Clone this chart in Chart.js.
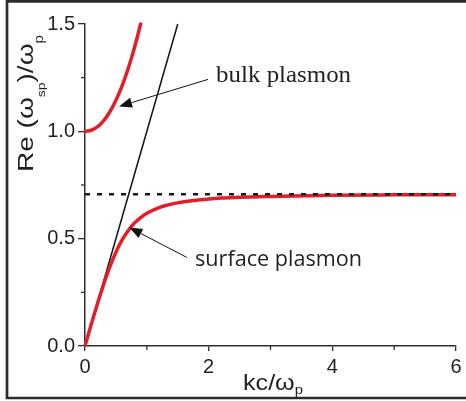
<!DOCTYPE html>
<html>
<head>
<meta charset="utf-8">
<script src="https://cdn.jsdelivr.net/npm/chart.js@4.4.1/dist/chart.umd.min.js"></script>
<style>
html, body { margin: 0; padding: 0; background: #fff; }
</style>
</head>
<body>
<canvas id="plasmonChart" width="466" height="401"></canvas>
<script>
// values: kc/wp along x, Re(w)/wp along y
const surfaceK = [0, 0.1, 0.2, 0.3, 0.4, 0.5, 0.6, 0.7, 0.8, 0.9, 1.0, 1.2, 1.4, 1.6, 1.8, 2.0, 2.5, 3.0, 4.0, 5.0, 6.0];
const surfaceW = [0, 0.100, 0.196, 0.286, 0.367, 0.437, 0.494, 0.538, 0.573, 0.598, 0.618, 0.645, 0.661, 0.672, 0.679, 0.685, 0.693, 0.697, 0.702, 0.704, 0.705];
const bulkK = [0, 0.1, 0.2, 0.3, 0.4, 0.5, 0.6, 0.7, 0.8, 0.9];
const bulkW = [1.0, 1.005, 1.021, 1.049, 1.09, 1.145, 1.212, 1.294, 1.39, 1.5];
const lightK = [0, 1.5];
const lightW = [0, 1.5];
const limitK = [0, 6];
const limitW = [0.707, 0.707];

const xTicks = [0, 2, 4, 6];
const xMinorTicks = [1, 3, 5];
const yTicks = [0, 0.5, 1.0, 1.5];
const yMinorTicks = [0.25, 0.75, 1.25];

const SANS = '"Liberation Sans", Arial, sans-serif';
const AXIS_COLOR = '#2e2e2e';
const RED = 'rgb(226, 30, 40)';

function toPoints(xs, ys) {
    return xs.map((x, i) => ({ x: x, y: ys[i] }));
}

// draws text pieces [text, size, dy] one after another, squeezed/stretched to a length
function drawRich(ctx, parts, x, y, targetLen) {
    let total = 0;
    parts.forEach(p => {
        ctx.font = p[1] + 'px ' + SANS;
        total += ctx.measureText(p[0]).width;
    });
    const sx = targetLen ? targetLen / total : 1;
    ctx.save();
    ctx.translate(x, y);
    ctx.scale(sx, 1);
    let cx = 0;
    parts.forEach(p => {
        ctx.font = p[1] + 'px ' + SANS;
        ctx.fillText(p[0], cx, p[2]);
        cx += ctx.measureText(p[0]).width;
    });
    ctx.restore();
}

function drawFitted(ctx, text, font, x, y, targetLen) {
    ctx.font = font;
    const w = ctx.measureText(text).width;
    ctx.save();
    ctx.translate(x, y);
    ctx.scale(targetLen / w, 1);
    ctx.fillText(text, 0, 0);
    ctx.restore();
}

function drawArrow(ctx, x1, y1, x2, y2) {
    const a = Math.atan2(y2 - y1, x2 - x1);
    const len = 13, half = 5;
    const bx = x2 - len * Math.cos(a), by = y2 - len * Math.sin(a);
    ctx.beginPath();
    ctx.moveTo(x1, y1);
    ctx.lineTo(bx, by);
    ctx.stroke();
    ctx.beginPath();
    ctx.moveTo(x2, y2);
    ctx.lineTo(bx + half * Math.sin(a), by - half * Math.cos(a));
    ctx.lineTo(bx - half * Math.sin(a), by + half * Math.cos(a));
    ctx.closePath();
    ctx.fill();
}

const decorPlugin = {
    id: 'decor',
    afterDraw(chart) {
        const ctx = chart.ctx;
        const xs = chart.scales.x, ys = chart.scales.y;
        const area = chart.chartArea;
        const px = v => xs.getPixelForValue(v);
        const py = v => ys.getPixelForValue(v);

        ctx.save();
        // minor ticks
        ctx.strokeStyle = AXIS_COLOR;
        ctx.lineWidth = 1.3;
        xMinorTicks.forEach(v => {
            ctx.beginPath();
            ctx.moveTo(px(v), area.bottom);
            ctx.lineTo(px(v), area.bottom + 4);
            ctx.stroke();
        });
        yMinorTicks.forEach(v => {
            ctx.beginPath();
            ctx.moveTo(area.left - 4, py(v));
            ctx.lineTo(area.left, py(v));
            ctx.stroke();
        });

        // axis titles
        ctx.fillStyle = '#231f20';
        ctx.textBaseline = 'alphabetic';
        drawRich(ctx, [['kc/\u03c9', 22, 0], ['p', 13, 4]], 243, 390, 60);

        ctx.save();
        ctx.translate(33, 172);
        ctx.rotate(-Math.PI / 2);
        drawRich(ctx, [['Re (\u03c9', 22, 0], ['sp', 11, 12], [')/\u03c9', 22, 0], ['p', 12, 10]], 0, 0, 137);
        ctx.restore();

        // annotations
        ctx.strokeStyle = '#111';
        ctx.fillStyle = '#111';
        ctx.lineWidth = 1;
        drawArrow(ctx, px(1.99), py(1.242), px(0.55), py(1.116));
        drawArrow(ctx, px(1.647), py(0.4126), px(0.717), py(0.552));

        ctx.fillStyle = '#231f20';
        drawFitted(ctx, 'bulk plasmon', '24px "Liberation Serif", "Times New Roman", serif', px(2.12), py(1.229), 135);
        drawFitted(ctx, 'surface plasmon', '22px "Open Sans", ' + SANS, px(1.78), py(0.372), 167);

        // frame around the figure
        ctx.strokeStyle = '#2b2b2b';
        ctx.lineWidth = 2.7;
        ctx.beginPath();
        ctx.moveTo(466, 1.3);
        ctx.lineTo(7, 1.3);
        ctx.lineTo(7, 398);
        ctx.lineTo(466, 398);
        ctx.stroke();
        ctx.restore();
    }
};

const ctx = document.getElementById('plasmonChart').getContext('2d');

const plasmonChart = new Chart(ctx, {
    type: 'line',
    data: {
        datasets: [
            {
                label: 'limit',
                data: toPoints(limitK, limitW),
                borderColor: '#1a1a1a',
                borderWidth: 2.6,
                borderDash: [5, 7],
                order: 0
            },
            {
                label: 'surface plasmon',
                data: toPoints(surfaceK, surfaceW),
                borderColor: RED,
                borderWidth: 3.5,
                cubicInterpolationMode: 'monotone',
                order: 1
            },
            {
                label: 'bulk plasmon',
                data: toPoints(bulkK, bulkW),
                borderColor: RED,
                borderWidth: 3.5,
                borderCapStyle: 'round',
                cubicInterpolationMode: 'monotone',
                order: 1
            },
            {
                label: 'light line',
                data: toPoints(lightK, lightW),
                borderColor: '#111',
                borderWidth: 1.5,
                order: 2
            }
        ]
    },
    options: {
        responsive: false,
        animation: false,
        clip: false,
        plugins: {
            legend: { display: false },
            tooltip: { enabled: false }
        },
        layout: {
            padding: { top: 24, right: 10, left: 0, bottom: 0 }
        },
        elements: {
            point: { radius: 0 },
            line: { fill: false }
        },
        scales: {
            x: {
                type: 'linear',
                min: 0,
                max: 6,
                afterBuildTicks: scale => { scale.ticks = xTicks.map(v => ({ value: v })); },
                afterFit: scale => { scale.height = 55; },
                grid: { drawOnChartArea: false, tickLength: 5, color: AXIS_COLOR, lineWidth: 1.3 },
                border: { color: AXIS_COLOR, width: 1.5 },
                ticks: {
                    color: '#231f20',
                    font: { family: SANS, size: 20 },
                    padding: 4,
                    maxRotation: 0,
                    callback: v => String(v)
                }
            },
            y: {
                type: 'linear',
                min: 0,
                max: 1.5,
                afterBuildTicks: scale => { scale.ticks = yTicks.map(v => ({ value: v })); },
                afterFit: scale => { scale.width = 85; },
                grid: { drawOnChartArea: false, tickLength: 7, color: AXIS_COLOR, lineWidth: 1.3 },
                border: { color: AXIS_COLOR, width: 1.5 },
                ticks: {
                    color: '#231f20',
                    font: { family: SANS, size: 20 },
                    padding: 3,
                    callback: v => v.toFixed(1)
                }
            }
        }
    },
    plugins: [decorPlugin]
});
</script>
</body>
</html>
